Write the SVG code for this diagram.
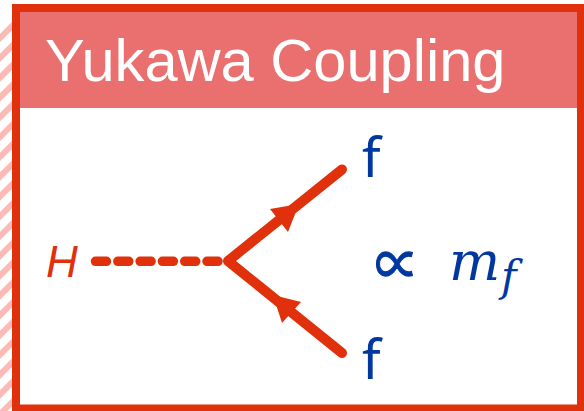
<svg xmlns="http://www.w3.org/2000/svg" width="584" height="411" viewBox="0 0 584 411">
<style>
.blue{fill:#0038a0;font-family:"Noto Sans","Open Sans",sans-serif}
.math{fill:#0038a0;font-family:"DejaVu Serif","Liberation Serif",serif;font-style:italic}
.line{stroke:#e0300c;stroke-linecap:round;fill:none}
.head{fill:#e0300c}
</style>
<defs>
<pattern id="st" width="14" height="14" patternUnits="userSpaceOnUse" patternTransform="rotate(-45) translate(0,9.900)">
<rect width="14" height="6" fill="#fdb9b5"/>
</pattern>
</defs>
<rect width="584" height="411" fill="#fff"/>
<rect x="0" y="22" width="12" height="389" fill="url(#st)"/>
<g id="header">
<rect x="20" y="12" width="557" height="96" fill="#ea6f6f"/>
<text x="45" y="81" font-family="Liberation Sans,sans-serif" font-size="59.600" fill="#fff">Yukawa Coupling</text>
</g>
<rect id="frame" x="16" y="8" width="565" height="400.500" fill="none" stroke="#e0300c" stroke-width="8"/>
<g id="connectors">
<path class="line" stroke-width="9.500" d="M95.500 261.300H219" stroke-dasharray="11 11.300"/>
<path class="line" stroke-width="10" d="M228 261L342 169.500M228 261L342 353"/>
<path class="head" d="M270 209L299 204L288 232Z"/>
<path class="head" d="M273 295L301 302L282 323Z"/>
</g>
<g id="node-h"><text x="46" y="277" font-family="Liberation Sans,sans-serif" font-style="italic" font-size="44" fill="#e0300c">H</text></g>
<g id="node-f1"><text x="362" y="177" class="blue" font-size="54">f</text></g>
<g id="node-f2"><text x="362" y="379" class="blue" font-size="54">f</text></g>
<g id="formula">
<text transform="translate(375 262) scale(1 1.350) translate(0 -262)" x="0" y="280" font-family="Noto Sans CJK SC,sans-serif" fill="#0038a0" stroke="#0038a0" stroke-width="1" font-size="44">∝</text>
<text x="449" y="280" class="math" font-size="54">m</text>
<text x="501" y="291" class="math" font-size="42">f</text>
</g>
</svg>
